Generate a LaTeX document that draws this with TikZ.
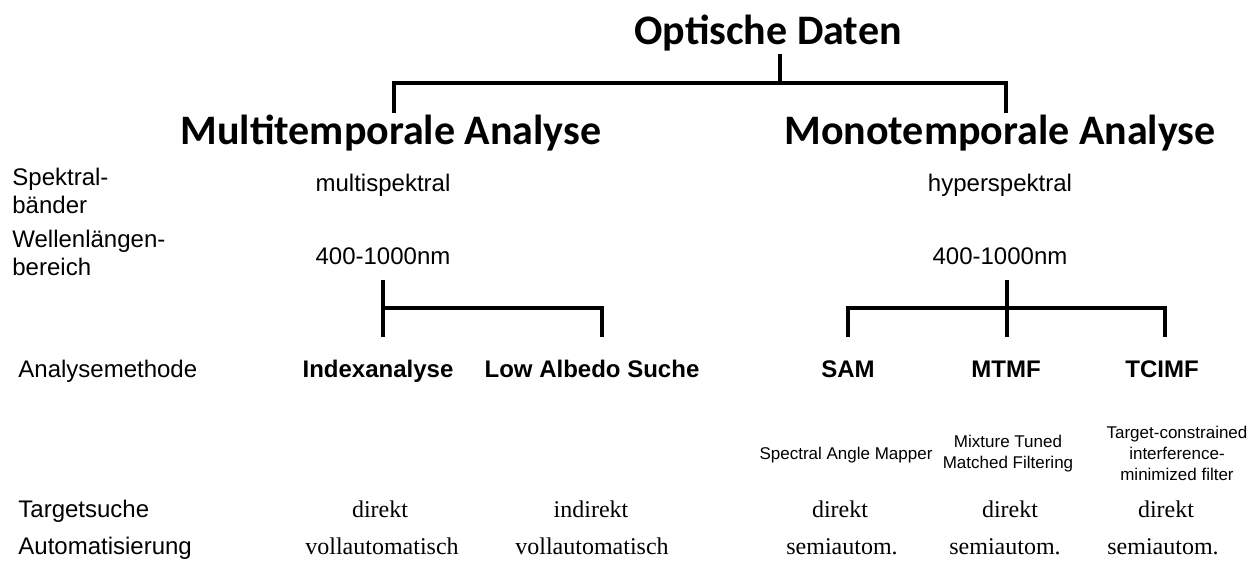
\documentclass[tikz,border=0pt]{standalone}
\usepackage{fontspec}
\setmainfont{Liberation Sans}
\newfontfamily\headfont{Carlito}
\newfontfamily\valfont{Liberation Serif}

\begin{document}
\begin{tikzpicture}[x=0.5pt,y=-0.5pt,every node/.style={inner sep=0pt,anchor=base},
head/.style={font=\headfont\bfseries\fontsize{21}{25}\selectfont},
rowlabel/.style={anchor=north west,align=left,font=\fontsize{12}{14}\selectfont},
info/.style={font=\fontsize{12}{14}\selectfont},
method/.style={font=\bfseries\fontsize{12}{14}\selectfont},
descr/.style={anchor=center,align=center,font=\fontsize{8.5}{10.5}\selectfont},
value/.style={font=\valfont\fontsize{12}{14}\selectfont},
bar/.style={line width=2pt}]
\useasboundingbox (0,0) rectangle (1260,561);
\node[head] (root) at (768,45) {Optische Daten};
\node[head] (multi) at (391,145) {Multitemporale Analyse};
\node[head] (mono) at (1000,145) {Monotemporale Analyse};
\node[rowlabel] (lbands) at (12,167.5) {Spektral-\\bänder};
\node[rowlabel] (lrange) at (12,229.5) {Wellenlängen-\\bereich};
\node[info] (multiband) at (383,192) {multispektral};
\node[info] (hyperband) at (1000,192) {hyperspektral};
\node[info] (multirange) at (383,265) {400-1000nm};
\node[info] (hyperrange) at (1000,265) {400-1000nm};
\node[info,anchor=base west] (lmethod) at (18,378) {Analysemethode};
\node[method] (index) at (378,378) {Indexanalyse};
\node[method] (albedo) at (592,378) {Low Albedo Suche};
\node[method] (sam) at (848,378) {SAM};
\node[method] (mtmf) at (1006,378) {MTMF};
\node[method] (tcimf) at (1162,378) {TCIMF};
\node[descr] (samtext) at (846,455) {Spectral Angle Mapper};
\node[descr] (mtmftext) at (1008,454) {Mixture Tuned\\Matched Filtering};
\node[descr] (tcimftext) at (1177,453) {Target-constrained\\interference-\\minimized filter};
\node[info,anchor=base west] (ltarget) at (18,517) {Targetsuche};
\node[info,anchor=base west] (lauto) at (18,554) {Automatisierung};
\node[value] (t1) at (380,517) {direkt};
\node[value] (t2) at (591,517) {indirekt};
\node[value] (t3) at (840,517) {direkt};
\node[value] (t4) at (1010,517) {direkt};
\node[value] (t5) at (1166,517) {direkt};
\node[value] (a1) at (382,554) {vollautomatisch};
\node[value] (a2) at (592,554) {vollautomatisch};
\node[value] (a3) at (842,554) {semiautom.};
\node[value] (a4) at (1005,554) {semiautom.};
\node[value] (a5) at (1163,554) {semiautom.};
\coordinate (rootout) at (780,54);
\coordinate (rootfork) at (780,83);
\coordinate (multiin) at (394,113);
\coordinate (monoin) at (1006,113);
\coordinate (multiout) at (383,280);
\coordinate (multifork) at (383,308);
\coordinate (indexin) at (383,337);
\coordinate (albedoin) at (602,337);
\coordinate (monoout) at (1007,280);
\coordinate (monofork) at (1007,308);
\coordinate (samin) at (848,337);
\coordinate (mtmfin) at (1007,337);
\coordinate (tcimfin) at (1165,337);
\draw[bar] (rootout) -- (rootfork);
\draw[bar] (multiin) |- (rootfork) -| (monoin);
\draw[bar] (multiout) -- (indexin);
\draw[bar] (multifork) -| (albedoin);
\draw[bar] (monoout) -- (mtmfin);
\draw[bar] (samin) |- (monofork) -| (tcimfin);
\end{tikzpicture}
\end{document}
